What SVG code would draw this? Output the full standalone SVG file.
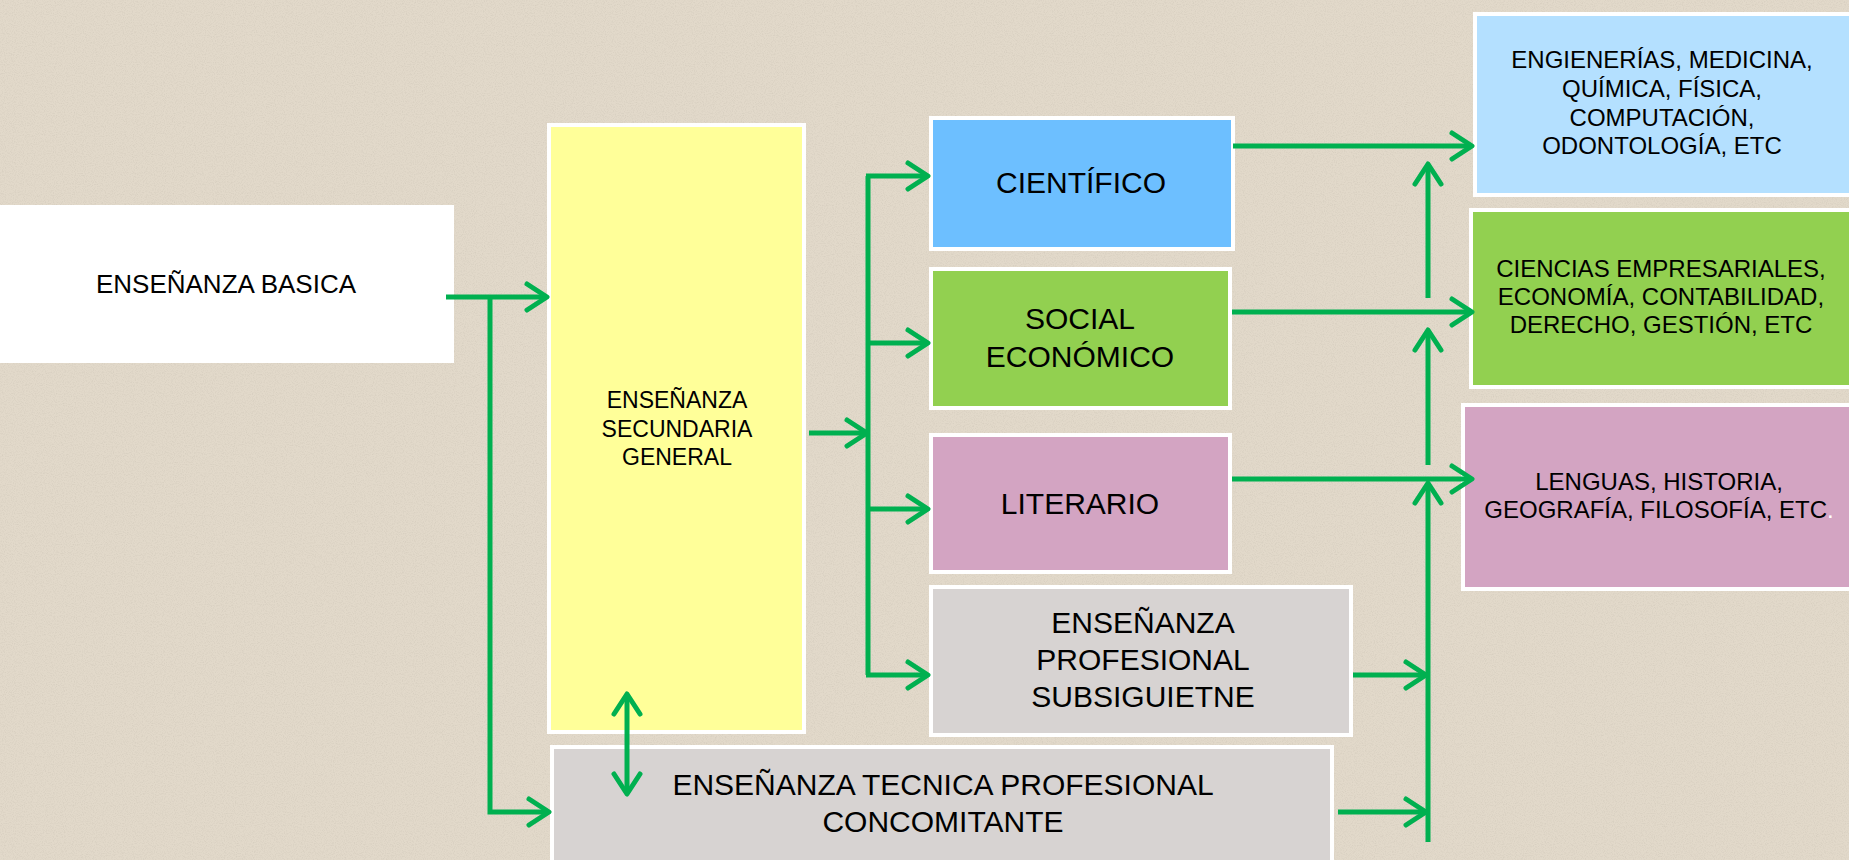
<svg xmlns="http://www.w3.org/2000/svg" width="1849" height="860" viewBox="0 0 1849 860">
<defs>
<style>
.bg{fill:#E2D9CA}
.box{stroke:#FFFFFF;stroke-width:4}
.t{font-family:"Liberation Sans",Arial,sans-serif;fill:#000;text-anchor:middle}
.s24{font-size:24px}
.s23{font-size:23px}
.s26{font-size:26px}
.s30{font-size:30px}
.c{fill:none;stroke:#00B050;stroke-width:5}
</style>
<filter id="paper" x="0" y="0" width="100%" height="100%">
<feTurbulence type="fractalNoise" baseFrequency="0.9" numOctaves="2" seed="3" result="n"/>
<feColorMatrix in="n" type="matrix" values="0 0 0 0 0.55  0 0 0 0 0.5  0 0 0 0 0.42  0 0 0 -2.2 1.25"/>
</filter>
<marker id="ah" markerUnits="userSpaceOnUse" markerWidth="34" markerHeight="34" viewBox="0 0 34 34" refX="29" refY="17" orient="auto-start-reverse">
<path d="M9,4 L29,17 L9,30" fill="none" stroke="#00B050" stroke-width="5" stroke-linecap="round" stroke-linejoin="round"/>
</marker>
</defs>
<rect class="bg" x="0" y="0" width="1849" height="860"/>
<rect x="0" y="0" width="1849" height="860" filter="url(#paper)" opacity="0.35"/>

<g id="basica">
<rect x="0" y="205" width="454" height="158" fill="#FFFFFF"/>
<text class="t s26" x="226" y="293">ENSEÑANZA BASICA</text>
</g>

<g id="secundaria">
<rect class="box" x="549" y="125" width="255" height="607" fill="#FFFF99"/>
<text class="t s23" x="677" y="408">ENSEÑANZA</text>
<text class="t s23" x="677" y="437">SECUNDARIA</text>
<text class="t s23" x="677" y="465">GENERAL</text>
</g>

<g id="cientifico">
<rect class="box" x="931" y="118" width="302" height="131" fill="#6DBFFF"/>
<text class="t s30" x="1081" y="193">CIENTÍFICO</text>
</g>

<g id="social">
<rect class="box" x="931" y="269" width="299" height="139" fill="#92D050"/>
<text class="t s30" x="1080" y="329">SOCIAL</text>
<text class="t s30" x="1080" y="367">ECONÓMICO</text>
</g>

<g id="literario">
<rect class="box" x="931" y="435" width="299" height="137" fill="#D3A4C2"/>
<text class="t s30" x="1080" y="514">LITERARIO</text>
</g>

<g id="subsiguiente">
<rect class="box" x="931" y="587" width="420" height="148" fill="#D7D3D2"/>
<text class="t s30" x="1143" y="633">ENSEÑANZA</text>
<text class="t s30" x="1143" y="670">PROFESIONAL</text>
<text class="t s30" x="1143" y="707">SUBSIGUIETNE</text>
</g>

<g id="concomitante">
<rect class="box" x="552" y="747" width="780" height="130" fill="#D7D3D2"/>
<text class="t s30" x="943" y="795">ENSEÑANZA TECNICA PROFESIONAL</text>
<text class="t s30" x="943" y="832">CONCOMITANTE</text>
</g>

<g id="ingenierias">
<rect class="box" x="1475" y="14" width="390" height="181" fill="#B4E0FF"/>
<text class="t s24" x="1662" y="68">ENGIENERÍAS, MEDICINA,</text>
<text class="t s24" x="1662" y="97">QUÍMICA, FÍSICA,</text>
<text class="t s24" x="1662" y="126">COMPUTACIÓN,</text>
<text class="t s24" x="1662" y="154">ODONTOLOGÍA, ETC</text>
</g>

<g id="empresariales">
<rect class="box" x="1471" y="210" width="394" height="177" fill="#92D050"/>
<text class="t s24" x="1661" y="277">CIENCIAS EMPRESARIALES,</text>
<text class="t s24" x="1661" y="305">ECONOMÍA, CONTABILIDAD,</text>
<text class="t s24" x="1661" y="333">DERECHO, GESTIÓN, ETC</text>
</g>

<g id="lenguas">
<rect class="box" x="1463" y="405" width="402" height="184" fill="#D3A4C2"/>
<text class="t s24" x="1659" y="490">LENGUAS, HISTORIA,</text>
<text class="t s24" x="1659" y="518">GEOGRAFÍA, FILOSOFÍA, ETC<tspan fill="#FFFFFF">.</tspan></text>
</g>

<g id="connectors">
<path class="c" d="M446,297 H547" marker-end="url(#ah)"/>
<path class="c" d="M490,297 V812 H549" marker-end="url(#ah)"/>
<path class="c" d="M627,694 V794" marker-start="url(#ah)" marker-end="url(#ah)"/>
<path class="c" d="M809,433 H867" marker-end="url(#ah)"/>
<path class="c" d="M868,176 V675"/>
<path class="c" d="M866,176 H928" marker-end="url(#ah)"/>
<path class="c" d="M866,343 H928" marker-end="url(#ah)"/>
<path class="c" d="M866,509 H928" marker-end="url(#ah)"/>
<path class="c" d="M866,675 H928" marker-end="url(#ah)"/>
<path class="c" d="M1233,146 H1472" marker-end="url(#ah)"/>
<path class="c" d="M1232,312 H1472" marker-end="url(#ah)"/>
<path class="c" d="M1232,479 H1472" marker-end="url(#ah)"/>
<path class="c" d="M1428,298 V164" marker-end="url(#ah)"/>
<path class="c" d="M1428,465 V330" marker-end="url(#ah)"/>
<path class="c" d="M1428,842 V483" marker-end="url(#ah)"/>
<path class="c" d="M1353,675 H1426" marker-end="url(#ah)"/>
<path class="c" d="M1338,812 H1426" marker-end="url(#ah)"/>
</g>
</svg>
